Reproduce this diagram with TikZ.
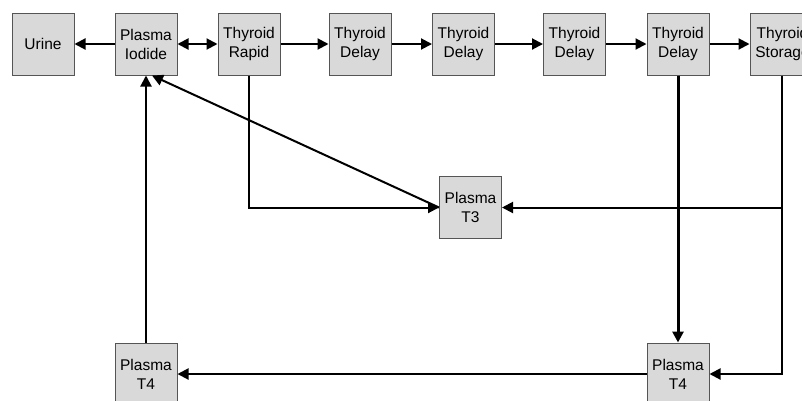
\documentclass[tikz,border=0pt]{standalone}
\usepackage{fontspec}
\setmainfont{Liberation Sans}
\usetikzlibrary{arrows.meta}
\definecolor{boxfill}{HTML}{D9D9D9}
\definecolor{boxline}{HTML}{555555}
\begin{document}
\begin{tikzpicture}[x=1pt,y=-1pt,
  compartment/.style={draw=boxline,line width=1pt,fill=boxfill,minimum width=62pt,minimum height=62pt,
    inner sep=0pt,align=center,font=\fontsize{15.5}{19}\selectfont},
  flow/.style={line width=2pt,-{Triangle[length=11pt,width=11pt]}},
  flowboth/.style={line width=2pt,{Triangle[length=11pt,width=11pt]}-{Triangle[length=11pt,width=11pt]}}]
\useasboundingbox (0,0) rectangle (802,400);
\clip (0,0) rectangle (802,400);
\fill[white] (0,0) rectangle (802,400);

% compartments along the top
\node[compartment] (urine) at (43,44) {Urine};
\node[compartment] (iod) at (146,44) {Plasma\\Iodide};
\node[compartment] (rapid) at (249,44) {Thyroid\\Rapid};
\node[compartment] (d1) at (360,44) {Thyroid\\Delay};
\node[compartment] (d2) at (463.5,44) {Thyroid\\Delay};
\node[compartment] (d3) at (574.5,44) {Thyroid\\Delay};
\node[compartment] (d4) at (678,44) {Thyroid\\Delay};
\node[compartment,minimum width=65pt] (stor) at (782.5,44) {Thyroid\\Storage};

% plasma hormone pools
\node[compartment] (t3) at (470.5,207.5) {Plasma\\T3};
\node[compartment] (t4l) at (146,374) {Plasma\\T4};
\node[compartment] (t4r) at (678,374) {Plasma\\T4};

% iodide exchange and thyroid chain
\draw[flow] (iod) -- (urine);
\draw[flowboth] (iod) -- (rapid);
\draw[flow] (rapid) -- (d1);
\draw[flow] (d1) -- (d2);
\draw[flow] (d2) -- (d3);
\draw[flow] (d3) -- (d4);
\draw[flow] (d4) -- (stor);

% hormone release and return paths
\draw[flow] (rapid.south) |- (t3.west);
\draw[flow] (t3.west) -- ([xshift=6pt]iod.south);
\draw[flow] (t4l.north) -- (iod.south);
\draw[flow,line width=3pt] (d4.south) -- (t4r.north);
\draw[flow] ([xshift=-0.5pt]stor.south) |- (t3.east);
\draw[flow] ([xshift=-0.5pt]stor.south) |- (t4r.east);
\draw[flow] (t4r.west) -- (t4l.east);
\end{tikzpicture}
\end{document}
